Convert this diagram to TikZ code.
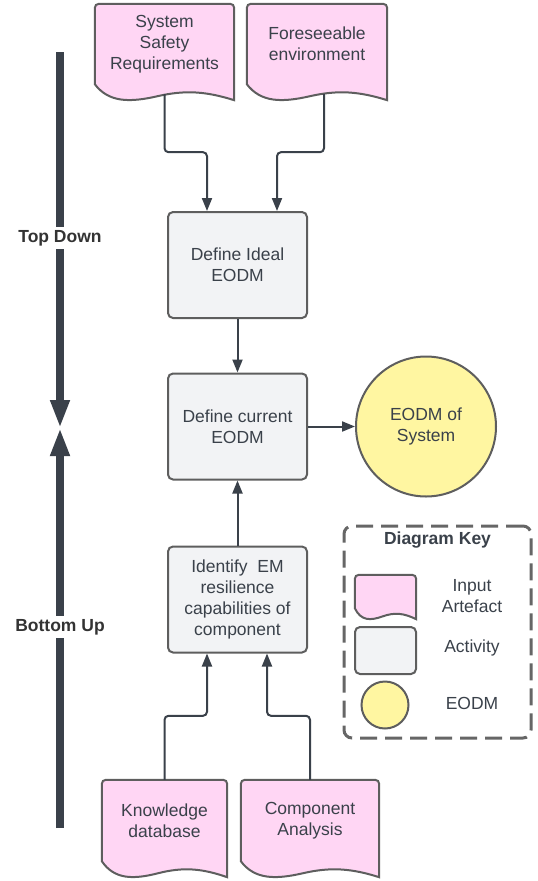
\documentclass[tikz,border=0pt]{standalone}
\usepackage{fontspec}
\setmainfont{Liberation Sans}
\usetikzlibrary{shapes.geometric, arrows.meta, calc}
\definecolor{inkgray}{HTML}{3A414A}
\definecolor{edgegray}{HTML}{5E5E5E}
\definecolor{keygray}{HTML}{666666}
\definecolor{artefactpink}{HTML}{FFD6F4}
\definecolor{activitygray}{HTML}{F2F3F5}
\definecolor{eodmyellow}{HTML}{FFF6A1}
\newcommand{\diagfont}{\fontsize{17.5}{21}\selectfont}
\tikzstyle{artefact} = [rectangle, minimum height=80pt, inner sep=0pt, align=center, text=inkgray, font=\diagfont]
\tikzstyle{artefactline} = [draw=edgegray, line width=2pt, fill=artefactpink]
\tikzstyle{activity} = [rectangle, rounded corners=5pt, minimum width=139pt, minimum height=106pt, align=center, draw=edgegray, line width=2pt, fill=activitygray, text=inkgray, font=\diagfont]
\tikzstyle{eodm} = [circle, minimum size=140pt, inner sep=0pt, align=center, draw=edgegray, line width=2pt, fill=eodmyellow, text=inkgray, font=\diagfont]
\tikzstyle{keylabel} = [align=center, text=inkgray, font=\diagfont]
\tikzstyle{keybox} = [rectangle, rounded corners=8pt, minimum width=187pt, minimum height=212pt, draw=keygray, line width=3pt, dash pattern=on 17pt off 8pt]
\tikzstyle{phaselabel} = [inner sep=3pt, text=black!80, font=\diagfont\bfseries]
\tikzstyle{phaseline} = [line width=8.5pt, draw=inkgray]
\tikzstyle{phase} = [phaseline, -{Triangle[width=18pt,length=28pt]}]
\tikzstyle{arrow} = [line width=2pt, draw=inkgray, -{Triangle[width=10pt,length=13pt]}]
\pgfdeclarelayer{background}
\pgfsetlayers{background,main}
% wavy document outline behind a node: name, wave depth
\newcommand{\artefactshape}[2]{%
  \begin{pgfonlayer}{background}
    \draw[artefactline] (#1.south west) [rounded corners=4pt] -- (#1.north west) -- (#1.north east) [sharp corners]
      -- ($(#1.south east)+(0,#2)$)
      .. controls ($(#1.south west)!0.8!(#1.south east)+(0,0.45*#2)$) and ($(#1.south west)!0.65!(#1.south east)+(0,0.35*#2)$)
      .. ($(#1.south west)!0.45!(#1.south east)+(0,0.75*#2)$)
      .. controls ($(#1.south west)!0.25!(#1.south east)+(0,1.15*#2)$) and ($(#1.south west)!0.1!(#1.south east)+(0,1.15*#2)$)
      .. (#1.south west) -- cycle;
  \end{pgfonlayer}}

\begin{document}
\begin{tikzpicture}[x=1pt, y=-1pt, node distance=161.5pt]
    \useasboundingbox (0,0) rectangle (538,881);
    % inputs
    \node (ssr) [artefact, minimum width=139pt] at (164.5,44) {System\\Safety\\Requirements};
    \node (fe) [artefact, minimum width=140pt] at (317,44) {Foreseeable\\environment};
    \node (kd) [artefact, minimum width=125pt, minimum height=81pt] at (164.5,820.5) {Knowledge\\database};
    \node (ca) [artefact, minimum width=138pt, minimum height=81pt] at (310,820.5) {Component\\Analysis};
    \artefactshape{ssr}{16}
    \artefactshape{fe}{16}
    \artefactshape{kd}{16}
    \artefactshape{ca}{16}
    % activities
    \node (ideal) [activity] at (237.5,265) {Define Ideal\\EODM};
    \node (current) [activity, below of=ideal] {Define current\\EODM};
    \node (identify) [activity, below of=current, yshift=-11.5pt] {Identify\ \ EM\\resilience\\capabilities of\\component};
    \node (system) [eodm, right of=current, xshift=27pt] {EODM of\\System};
    \draw [arrow, rounded corners=4pt, shorten <=10pt] (ssr.south) -- ++(0,68) -| ([xshift=-30.5pt]ideal.north);
    \draw [arrow, rounded corners=4pt, shorten <=10pt] ([xshift=7pt]fe.south) -- ++(0,68) -| ([xshift=39.5pt]ideal.north);
    \draw [arrow] (ideal) -- (current);
    \draw [arrow] (current) -- (system);
    \draw [arrow] (identify) -- (current);
    \draw [arrow, rounded corners=4pt] (kd.north) -- ++(0,-64) -| ([xshift=-30.5pt]identify.south);
    \draw [arrow, rounded corners=4pt] (ca.north) -- ++(0,-64) -| ([xshift=29.5pt]identify.south);
    % top down / bottom up
    \coordinate (tdstart) at (60,52);
    \coordinate (meet) at (60,428);
    \coordinate (bustart) at (60,828);
    \node (tdlabel) [phaselabel] at (60,238) {Top Down};
    \node (bulabel) [phaselabel] at (60,627) {Bottom Up};
    \draw [phaseline] (tdstart) -- (tdlabel);
    \draw [phase] (tdlabel) -- (meet);
    \draw [phaseline] (bustart) -- (bulabel);
    \draw [phase] (bulabel) -- (meet);
    % key
    \node (key) [keybox] at (437.5,632) {};
    \node (keytitle) [keylabel, font=\diagfont\bfseries] at (437.5,540) {Diagram Key};
    \node (keydoc) [artefact, minimum width=61pt, minimum height=33pt] at (385.5,591.5) {};
    \artefactshape{keydoc}{11}
    \node (keyact) [activity, minimum width=61pt, minimum height=47pt] at (385.5,650.5) {};
    \node (keycircle) [eodm, minimum size=47pt] at (385,705) {};
    \node (keydoctext) [keylabel] at (472,596) {Input\\Artefact};
    \node (keyacttext) [keylabel] at (472,648) {Activity};
    \node (keycircletext) [keylabel] at (472,703) {EODM};
\end{tikzpicture}
\end{document}
